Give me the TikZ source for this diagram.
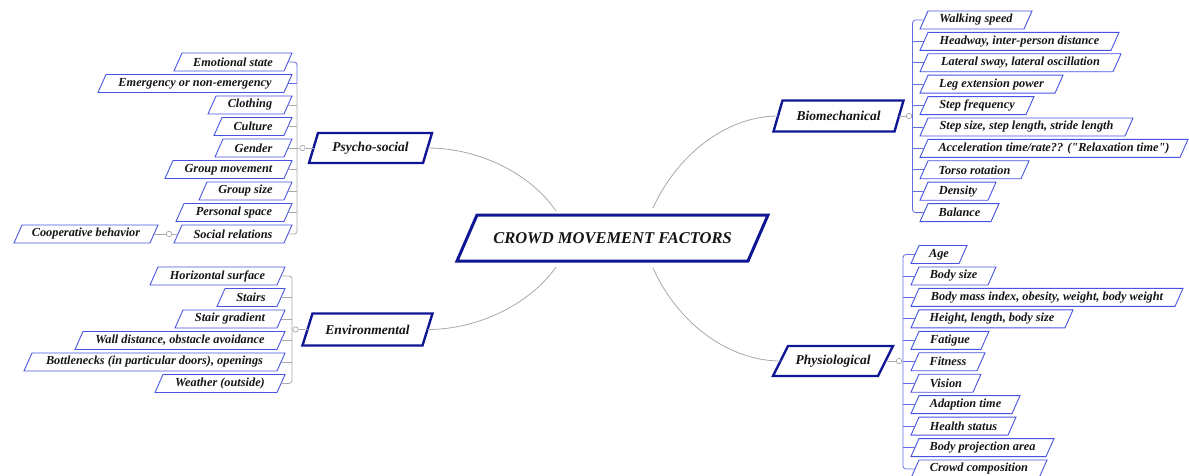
\documentclass[tikz,border=0pt]{standalone}
\usepackage{fontspec}
\setmainfont{Liberation Serif}[Ligatures=TeXOff]
\usetikzlibrary{calc}

\definecolor{itemblue}{RGB}{70,82,225}
\definecolor{navy}{RGB}{14,22,148}
\definecolor{linkgray}{RGB}{168,168,168}
\definecolor{trunkblue}{RGB}{100,110,228}
\definecolor{ink}{RGB}{20,20,20}

\tikzset{
  % parallelogram outline drawn around a rectangular node; #1 = horizontal slant
  pgram/.style n args={3}{append after command={\pgfextra{
    \draw[draw=#2, line width=#3, line join=miter]
      ($(\tikzlastnode.north west)+(0.5*#1,0)$) --
      ($(\tikzlastnode.north east)+(0.5*#1,0)$) --
      ($(\tikzlastnode.south east)+(-0.5*#1,0)$) --
      ($(\tikzlastnode.south west)+(-0.5*#1,0)$) -- cycle;}}},
  item/.style={inner sep=0pt, outer sep=0pt, minimum height=18pt, text=ink,
    font=\fontsize{12.3}{14}\selectfont\bfseries\itshape, pgram={8}{itemblue}{0.9pt}},
  branch/.style={inner sep=0pt, outer sep=0pt, minimum height=30pt, text=ink,
    font=\fontsize{13.5}{16}\selectfont\bfseries\itshape},
  hub/.style={inner sep=0pt, outer sep=0pt, minimum height=46pt, minimum width=291pt, text=ink,
    font=\fontsize{16.5}{19}\selectfont\bfseries\itshape, pgram={20}{navy}{3pt}},
  knob/.style={circle, draw=linkgray, line width=0.7pt, inner sep=0pt, minimum size=5.4pt},
  graylink/.style={draw=linkgray, line width=0.8pt},
  bluelink/.style={draw=trunkblue, line width=0.8pt},
}

\begin{document}
\begin{tikzpicture}[x=1pt, y=-1pt]
\useasboundingbox (0,0) rectangle (1189,476);

% central topic
\node[hub] (cmf) at (612.5,238) {CROWD MOVEMENT FACTORS};

% main branches
\node[branch, minimum width=114pt, pgram={9}{navy}{2.4pt}] (psy) at (370.5,148) {Psycho-social};
\node[branch, minimum width=120pt, minimum height=32pt, pgram={10}{navy}{2.4pt}] (env) at (367.5,329.5) {Environmental};
\node[branch, minimum width=121pt, minimum height=31pt, pgram={9}{navy}{2.4pt}] (bio) at (838.5,116) {Biomechanical};
\node[branch, minimum width=105pt, pgram={15}{navy}{2.4pt}] (phy) at (833,361) {Physiological};

% curved links from the central topic
\draw[graylink] ($(cmf.north)+(-56.5,-4)$) .. controls ($(cmf.north)+(-82.5,-42)$) and ($(psy.east)+(51,0)$) .. (psy.east);
\draw[graylink] ($(cmf.south)+(-56.5,6)$) .. controls ($(cmf.south)+(-82.5,43)$) and ($(env.east)+(51,0)$) .. (env.east);
\draw[graylink] ($(cmf.north)+(40.5,-7)$) .. controls ($(cmf.north)+(65.5,-62)$) and ($(bio.west)+(-50,0)$) .. (bio.west);
\draw[graylink] ($(cmf.south)+(40.5,7)$) .. controls ($(cmf.south)+(65.5,63)$) and ($(phy.west)+(-51,0)$) .. (phy.west);

% psycho-social factors
\foreach \t/\w [count=\i] in {Emotional state/110, Emergency or non-emergency/186, Clothing/76,
    Culture/70, Gender/69, Group movement/119, Group size/85, Personal space/108, Social relations/110}
  \node[item, minimum width=\w pt] (ps\i) at ({288-\w/2},{62+21.5*(\i-1)}) {\t};
\node[item, minimum width=136pt] (coop) at (86,234) {Cooperative behavior};

\coordinate (pst) at (297,148);
\draw[bluelink, rounded corners=3pt] (ps1.east) -| (ps2.east -| pst);
\draw[bluelink] (ps2.east) -- (ps2.east -| pst);
\draw[graylink, rounded corners=3pt] (ps2.east -| pst) -- (pst) |- (ps9.east);
\foreach \i in {3,...,8} \draw[graylink] (ps\i.east) -- (ps\i.east -| pst);
\node[knob] (psk) at (302.5,148) {};
\draw[graylink] (pst) -- (psk);
\draw[graylink] (psk) -- (psy.west);
\node[knob] (cok) at (169,234) {};
\draw[graylink] (coop.east) -- (cok);
\draw[graylink] (cok) -- (ps9.west);

% environmental factors
\foreach \t/\w [count=\i] in {Horizontal surface/127, Stairs/60, Stair gradient/102,
    {Wall distance, obstacle avoidance}/202, {Bottlenecks (in particular doors), openings}/253,
    Weather (outside)/122}
  \node[item, minimum width=\w pt] (en\i) at ({281-\w/2},{276+21.5*(\i-1)}) {\t};

\coordinate (ent) at (292,329.5);
\draw[graylink, rounded corners=3pt] (en1.east) -| (ent) |- (en6.east);
\foreach \i in {2,...,5} \draw[graylink] (en\i.east) -- (en\i.east -| ent);
\node[knob] (enk) at (295.5,329.5) {};
\draw[graylink] (enk) -- (env.west);

% biomechanical factors
\foreach \t/\w [count=\i] in {Walking speed/104, {Headway, inter-person distance}/191,
    {Lateral sway, lateral oscillation}/193, Leg extension power/135, Step frequency/106,
    {Step size, step length, stride length}/205, {Acceleration time/rate?? ("Relaxation time")}/260,
    Torso rotation/101, Density/68, Balance/71}
  \node[item, minimum width=\w pt] (bm\i) at ({924+\w/2},{20+21.4*(\i-1)}) {\t};

\coordinate (bmt) at (912.5,116);
\draw[bluelink, rounded corners=3pt] (bm1.west) -| (bmt) |- (bm10.west);
\foreach \i in {2,...,9} \draw[bluelink] (bm\i.west) -- (bm\i.west -| bmt);
\node[knob] (bmk) at (909,116) {};
\draw[graylink] (bio.east) -- (bmk);

% physiological factors
\foreach \t/\w [count=\i] in {Age/48, Body size/77, {Body mass index, obesity, weight, body weight}/264,
    {Height, length, body size}/154, Fatigue/70, Fitness/66, Vision/62, Adaption time/101,
    Health status/97, Body projection area/135, Crowd composition/128}
  \node[item, minimum width=\w pt] (ph\i) at ({915+\w/2},{254.5+21.45*(\i-1)}) {\t};

\coordinate (pht) at (903,361);
\draw[bluelink, rounded corners=3pt] (ph1.west) -| (pht) |- (ph11.west);
\foreach \i in {2,...,10} \draw[bluelink] (ph\i.west) -- (ph\i.west -| pht);
\node[knob] (phk) at (899,361) {};
\draw[graylink] (phy.east) -- (phk);
\end{tikzpicture}
\end{document}
